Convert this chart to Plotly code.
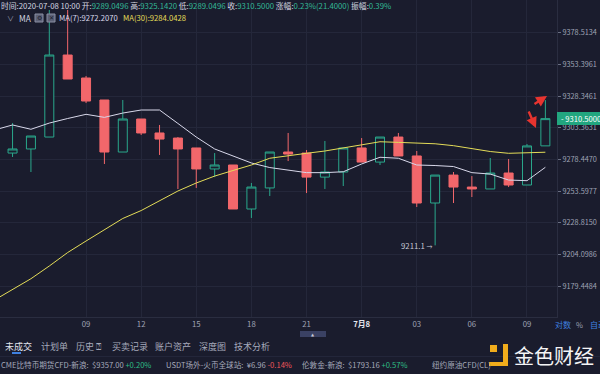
import math
import pandas as pd
import plotly.graph_objects as go

# ---------------- data ----------------
times = pd.date_range(start="2020-07-07 04:00", periods=31, freq="h")
opens = [9301.5, 9283.4, 9286.6, 9296.0, 9360.8, 9342.6, 9325.2, 9284.2, 9310.2, 9299.2,
         9295.2, 9287.4, 9270.9, 9274.0, 9239.5, 9256.0, 9284.2, 9283.4, 9264.5, 9268.5,
         9287.4, 9276.3, 9296.0, 9281.1, 9244.2, 9266.1, 9256.7, 9255.2, 9267.7, 9258.3, 9289.0496]
highs = [9302.5, 9307.0, 9296.8, 9396.6, 9396.6, 9344.2, 9325.2, 9325.2, 9310.2, 9305.5,
         9296.0, 9287.4, 9283.4, 9274.0, 9259.9, 9284.2, 9299.2, 9285.8, 9292.9, 9287.4,
         9295.2, 9296.0, 9299.2, 9285.0, 9266.1, 9268.5, 9265.3, 9279.5, 9278.7, 9290.5, 9325.1420]
lows = [9283.4, 9280.3, 9268.5, 9296.0, 9341.8, 9322.8, 9274.8, 9284.2, 9297.6, 9281.9,
        9255.2, 9256.0, 9264.5, 9239.5, 9232.5, 9249.7, 9277.1, 9252.0, 9255.2, 9257.5,
        9276.3, 9274.0, 9281.1, 9241.1, 9211.1, 9244.2, 9248.9, 9255.2, 9256.7, 9258.3, 9289.0496]
closes = [9283.4, 9286.6, 9296.8, 9360.8, 9341.8, 9324.4, 9284.2, 9310.2, 9299.2, 9294.4,
          9286.6, 9270.9, 9274.0, 9239.5, 9256.7, 9284.2, 9282.6, 9264.5, 9268.5, 9287.4,
          9276.3, 9296.0, 9281.1, 9244.2, 9266.1, 9256.7, 9255.2, 9267.7, 9258.3, 9289.0, 9310.5000]
ma7 = [9301.5, 9305.5, 9302.1, 9307.0, 9310.6, 9313.9, 9311.5, 9314.9, 9317.3, 9317.3,
       9306.7, 9296.0, 9286.6, 9281.1, 9275.6, 9272.0, 9270.1, 9268.0, 9268.0, 9268.7,
       9274.8, 9280.1, 9279.3, 9274.0, 9273.6, 9272.8, 9268.0, 9266.9, 9262.2, 9261.7, 9272.2070]
ma30 = [9168.4, 9176.7, 9185.1, 9195.0, 9205.5, 9214.5, 9223.4, 9232.1, 9238.3, 9245.8,
        9253.6, 9259.9, 9265.3, 9269.7, 9274.0, 9279.3, 9281.5, 9283.2, 9285.0, 9287.4,
        9290.4, 9292.3, 9291.8, 9291.4, 9290.7, 9289.2, 9287.0, 9284.6, 9283.2, 9283.4, 9284.0428]
ytick_vals = [9378.5134, 9353.3961, 9328.3461, 9303.3631, 9278.4470,
              9253.5977, 9228.8150, 9204.0986, 9179.4484]
xtick_vals = ["2020-07-07 09:00", "2020-07-07 12:00", "2020-07-07 15:00", "2020-07-07 18:00",
              "2020-07-07 21:00", "2020-07-08 00:00", "2020-07-08 03:00", "2020-07-08 06:00",
              "2020-07-08 09:00"]
xtick_text = ["09", "12", "15", "18", "21", "<b><span style='color:#e4e6ee'>7月8</span></b>",
              "03", "06", "09"]
low_label = "9211.1"
last_price = "9310.5000"

# ---------------- style ----------------
BG = "#1a1c2d"
GRID = "#24273a"
GREEN = "#2aa88c"
RED = "#f2676b"
TXT = "#9ea2b4"
FONT = "Noto Sans CJK SC, Noto Sans, sans-serif"
W, H = 600, 374
ML, MR, MT, MB = 0, 43, 0, 57
PW, PH = W - ML - MR, H - MT - MB


def px(x):
    return (x - ML) / PW


def py(y):
    return (MT + PH - y) / PH


# log axis range so that the tick labels land at their pixel rows
lhi, llo = math.log10(ytick_vals[0]), math.log10(ytick_vals[-1])
k = (lhi - llo) / (286.0 - 32.7)
yrange = [lhi - (PH - 32.7) * k, lhi + 32.7 * k]

fig = go.Figure()
fig.add_trace(go.Candlestick(
    x=times, open=opens, high=highs, low=lows, close=closes,
    increasing=dict(line=dict(color=GREEN, width=1), fillcolor=BG),
    decreasing=dict(line=dict(color=RED, width=1), fillcolor=RED),
    whiskerwidth=0, hoverinfo="skip", showlegend=False,
))
fig.add_trace(go.Scatter(x=times, y=ma7, mode="lines", line=dict(color="#d8d8ea", width=1),
                         hoverinfo="skip", showlegend=False))
fig.add_trace(go.Scatter(x=times, y=ma30, mode="lines", line=dict(color="#e4dc58", width=1),
                         hoverinfo="skip", showlegend=False))

ann = []
shapes = []

# header line 1
g = lambda s: f"<span style='color:#33b896'>{s}</span>"
hdr = ("时间:2020-07-08 10:00 开:" + g("9289.0496") + " 高:" + g("9325.1420") +
       " 低:" + g("9289.0496") + " 收:" + g("9310.5000") + " 涨幅:" + g("0.23%(21.4000)") +
       " 振幅:" + g("0.39%"))
ann.append(dict(x=px(-1), y=py(6), xref="paper", yref="paper", text=hdr, showarrow=False,
                xanchor="left", yanchor="middle", font=dict(size=7.8, color="#d4d6e0", family=FONT)))
# header line 2
ann.append(dict(x=px(5), y=py(18), xref="paper", yref="paper", text="∨", showarrow=False,
                xanchor="left", yanchor="middle", font=dict(size=7, color=TXT, family=FONT)))
ann.append(dict(x=px(17), y=py(18), xref="paper", yref="paper", text="MA", showarrow=False,
                xanchor="left", yanchor="middle", font=dict(size=8.3, color="#d4d6e0", family=FONT)))
for x0, sym in [(35, "⚙"), (47, "✕")]:
    shapes.append(dict(type="rect", xref="paper", yref="paper", x0=px(x0), x1=px(x0 + 8),
                       y0=py(22), y1=py(14), line=dict(color="#8a8fa3", width=1),
                       fillcolor="#5c6176"))
    ann.append(dict(x=px(x0 + 4), y=py(18), xref="paper", yref="paper", text=sym, showarrow=False,
                    xanchor="center", yanchor="middle", font=dict(size=6, color="#1a1c2d", family="DejaVu Sans")))
ann.append(dict(x=px(57), y=py(18), xref="paper", yref="paper", text="MA(7):9272.2070",
                showarrow=False, xanchor="left", yanchor="middle",
                font=dict(size=7.7, color="#d8d8ea", family=FONT)))
ann.append(dict(x=px(121), y=py(18), xref="paper", yref="paper", text="MA(30):9284.0428",
                showarrow=False, xanchor="left", yanchor="middle",
                font=dict(size=7.7, color="#e4dc58", family=FONT)))

# low label
ann.append(dict(x=times[24], y=math.log10(lows[24]), xref="x", yref="y",
                text=low_label + " <span style='font-size:6px'>→</span>", showarrow=False,
                xanchor="right", yanchor="middle", xshift=0,
                font=dict(size=7.8, color="#c8cad6", family=FONT)))

# last price label
shapes.append(dict(type="rect", xref="paper", yref="paper", x0=px(557), x1=px(601),
                   y0=py(125), y1=py(112), line=dict(width=0), fillcolor="#22a67f"))
ann.append(dict(x=px(559), y=py(118.5), xref="paper", yref="paper", text="- " + last_price,
                showarrow=False, xanchor="left", yanchor="middle",
                font=dict(size=7.6, color="#ffffff", family=FONT)))

# red arrows
for hx, hy, tx, ty in [(547, 96, 533, 105), (536, 128, 528, 110)]:
    ann.append(dict(x=px(hx), y=py(hy), xref="paper", yref="paper", ax=tx - hx, ay=ty - hy,
                    text="", showarrow=True, arrowhead=2, arrowsize=0.9, arrowwidth=2.4,
                    arrowcolor="#e8342f"))

# bottom axis controls
ann.append(dict(x=px(553), y=py(324), xref="paper", yref="paper", text="对数", showarrow=False,
                xanchor="left", yanchor="middle", font=dict(size=8, color="#3f80e0", family=FONT)))
ann.append(dict(x=px(574), y=py(324), xref="paper", yref="paper", text="%", showarrow=False,
                xanchor="left", yanchor="middle", font=dict(size=7.5, color=TXT, family=FONT)))
ann.append(dict(x=px(588), y=py(324), xref="paper", yref="paper", text="自动", showarrow=False,
                xanchor="left", yanchor="middle", font=dict(size=8, color="#3f80e0", family=FONT)))
shapes.append(dict(type="rect", xref="paper", yref="paper", x0=px(300), x1=px(326),
                   y0=py(337), y1=py(331), line=dict(width=0), fillcolor="#3a4163"))
ann.append(dict(x=px(313), y=py(334), xref="paper", yref="paper", text="▲", showarrow=False,
                xanchor="center", yanchor="middle", font=dict(size=4, color="#c8cad6", family="DejaVu Sans")))

# tabs
tabs = [("未成交", 3), ("计划单", 39), ("历史 ⍰", 74), ("买卖记录", 110), ("账户资产", 153),
        ("深度图", 197), ("技术分析", 232)]
for i, (t, x0) in enumerate(tabs):
    ann.append(dict(x=px(x0), y=py(346), xref="paper", yref="paper", text=t, showarrow=False,
                    xanchor="left", yanchor="middle",
                    font=dict(size=9, color="#e2e4ec" if i == 0 else "#a6aabb", family=FONT)))
shapes.append(dict(type="line", xref="paper", yref="paper", x0=px(12), x1=px(21),
                   y0=py(353), y1=py(353), line=dict(color="#3f80e0", width=2)))
shapes.append(dict(type="line", xref="paper", yref="paper", x0=px(0), x1=px(600),
                   y0=py(356.5), y1=py(356.5), line=dict(color="#23263a", width=1)))

# ticker row
gr = lambda s: f"<span style='color:#2ebd85'>{s}</span>"
rd = lambda s: f"<span style='color:#f0565a'>{s}</span>"
ticker = [("CME比特币期货CFD-新浪:  $9357.00 " + gr("+0.20%"), -1),
          ("USDT场外-火币全球站:  ¥6.96 " + rd("-0.14%"), 164),
          ("伦敦金-新浪:  $1793.16 " + gr("+0.57%"), 300),
          ("纽约原油CFD(CL)", 430)]
for t, x0 in ticker:
    ann.append(dict(x=px(x0), y=py(364), xref="paper", yref="paper", text=t, showarrow=False,
                    xanchor="left", yanchor="middle", font=dict(size=7.6, color="#a6aabb", family=FONT)))

# watermark logo
GOLD = "#f0ac1c"
shapes.append(dict(type="rect", xref="paper", yref="paper", x0=px(490), x1=px(497),
                   y0=py(352), y1=py(345), line=dict(width=0), fillcolor=GOLD))
shapes.append(dict(type="rect", xref="paper", yref="paper", x0=px(503), x1=px(508),
                   y0=py(366), y1=py(344), line=dict(width=0), fillcolor=GOLD))
shapes.append(dict(type="rect", xref="paper", yref="paper", x0=px(489), x1=px(508),
                   y0=py(366), y1=py(362), line=dict(width=0), fillcolor=GOLD))
ann.append(dict(x=px(512), y=py(356), xref="paper", yref="paper", text="金色财经", showarrow=False,
                xanchor="left", yanchor="middle", font=dict(size=20, color="#f4f4f6", family=FONT)))

fig.update_layout(
    width=W, height=H, margin=dict(l=ML, r=MR, t=MT, b=MB),
    paper_bgcolor=BG, plot_bgcolor=BG, showlegend=False,
    font=dict(family=FONT, color=TXT, size=7.5),
    annotations=ann, shapes=shapes,
    xaxis=dict(type="date", range=["2020-07-07 04:19", "2020-07-08 10:38"],
               tickvals=xtick_vals, ticktext=xtick_text, showgrid=True, gridcolor=GRID,
               gridwidth=1, zeroline=False, showline=True, linecolor="#2a2d40",
               rangeslider=dict(visible=False), tickfont=dict(size=7.8, color=TXT),
               ticks="", fixedrange=True),
    yaxis=dict(type="log", range=yrange, side="right", tickvals=ytick_vals,
               ticktext=[f"{v:.4f}" for v in ytick_vals], showgrid=True, gridcolor=GRID,
               zeroline=False, showline=True, linecolor="#2a2d40", ticks="outside",
               ticklen=3, tickcolor="#6a6f83", tickfont=dict(size=7.3, color=TXT),
               fixedrange=True),
)

fig.write_html("out.html", config={"displayModeBar": False},
               post_script="document.body.style.margin='0px';document.body.style.background='#1a1c2d';")
